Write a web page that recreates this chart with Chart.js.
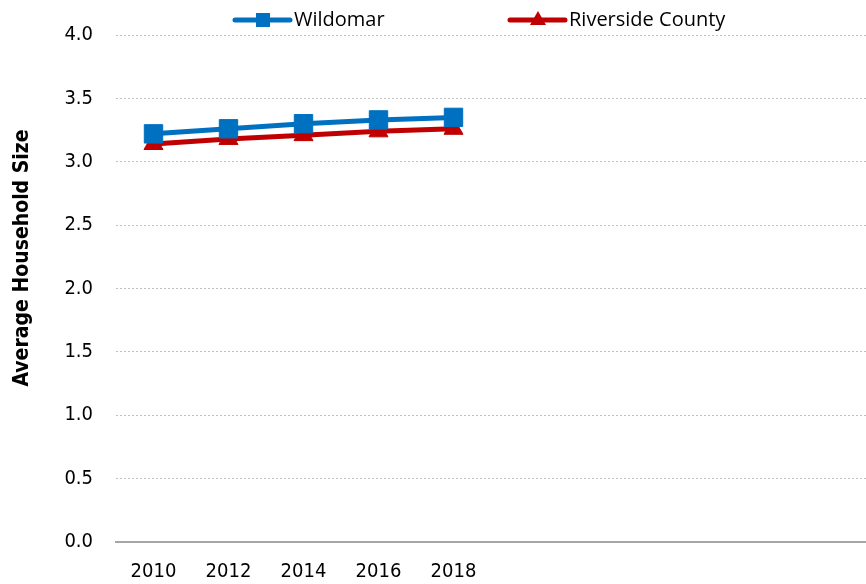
<!DOCTYPE html>
<html>
<head>
<meta charset="utf-8">
<script src="https://cdn.jsdelivr.net/npm/chart.js@4/dist/chart.umd.min.js"></script>
<style>
  html, body { margin: 0; padding: 0; background: #fff; }
  #wrap { width: 866px; height: 584px; position: relative; }
</style>
</head>
<body>
<div id="wrap"><canvas id="hhChart"></canvas></div>
<script>
const years = ['2010', '2012', '2014', '2016', '2018', '', '', '', '', ''];
const wildomar = [3.22, 3.26, 3.30, 3.33, 3.35];
const riverside = [3.14, 3.18, 3.21, 3.24, 3.26];
const yTicks = [0, 0.5, 1.0, 1.5, 2.0, 2.5, 3.0, 3.5, 4.0];
const yTitle = 'Average Household Size';

const narrow = "'Liberation Sans Narrow', 'Arial Narrow', 'DejaVu Sans Condensed', 'Liberation Sans', sans-serif";

// legend drawn as line + marker, like the original; y title drawn here too
const lineLegend = {
  id: 'lineLegend',
  afterDraw(chart) {
    const ctx = chart.ctx;
    const spots = [235, 510];
    ctx.save();
    chart.data.datasets.forEach((ds, i) => {
      const x = spots[i], y = 20;
      ctx.strokeStyle = ds.borderColor;
      ctx.lineWidth = 5;
      ctx.lineCap = 'round';
      ctx.beginPath();
      ctx.moveTo(x, y);
      ctx.lineTo(x + 55, y);
      ctx.stroke();
      ctx.fillStyle = ds.backgroundColor;
      ctx.beginPath();
      if (ds.pointStyle === 'rect') {
        ctx.rect(x + 21, y - 7, 14, 14);
      } else {
        ctx.moveTo(x + 28, y - 9);
        ctx.lineTo(x + 36, y + 5);
        ctx.lineTo(x + 20, y + 5);
        ctx.closePath();
      }
      ctx.fill();
      ctx.fillStyle = '#000';
      ctx.font = "20px 'Open Sans', 'Noto Sans', sans-serif";
      ctx.textBaseline = 'middle';
      ctx.fillText(ds.label, x + 59, y);
    });

    ctx.translate(23, 258);
    ctx.rotate(-Math.PI / 2);
    ctx.font = 'bold 21px ' + narrow;
    ctx.textAlign = 'center';
    ctx.textBaseline = 'middle';
    ctx.fillStyle = '#000';
    ctx.fillText(yTitle, 0, 0);
    ctx.restore();
  }
};

new Chart(document.getElementById('hhChart'), {
  type: 'line',
  data: {
    labels: years,
    datasets: [
      {
        label: 'Wildomar',
        data: wildomar,
        borderColor: '#0070c0',
        backgroundColor: '#0070c0',
        borderWidth: 5,
        pointStyle: 'rect',
        pointRadius: 13,
        pointBorderWidth: 1,
        tension: 0
      },
      {
        label: 'Riverside County',
        data: riverside,
        borderColor: '#c00000',
        backgroundColor: '#c00000',
        borderWidth: 5,
        pointStyle: 'triangle',
        pointRadius: 11,
        pointBorderWidth: 1,
        tension: 0
      }
    ]
  },
  options: {
    responsive: true,
    maintainAspectRatio: false,
    animation: false,
    layout: { autoPadding: false, padding: { top: 35, right: 0, left: 0, bottom: 0 } },
    plugins: {
      legend: { display: false },
      tooltip: { enabled: false }
    },
    scales: {
      x: {
        offset: true,
        grid: { display: false, drawTicks: false },
        border: { display: true, color: '#a6a6a6', width: 2 },
        ticks: {
          color: '#000',
          font: { family: narrow, size: 20 },
          padding: 18,
          maxRotation: 0,
          autoSkip: false
        },
        afterFit(scale) { scale.height = 42; }
      },
      y: {
        min: 0,
        max: 4,
        afterBuildTicks(scale) { scale.ticks = yTicks.map(v => ({ value: v })); },
        grid: {
          color: '#bfbfbf',
          lineWidth: 1,
          drawTicks: false
        },
        border: { display: false, dash: [2, 2] },
        ticks: {
          color: '#000',
          font: { family: narrow, size: 20 },
          padding: 23,
          callback: v => v.toFixed(1)
        },
        afterFit(scale) { scale.width = 116; }
      }
    }
  },
  plugins: [lineLegend]
});
</script>
</body>
</html>
